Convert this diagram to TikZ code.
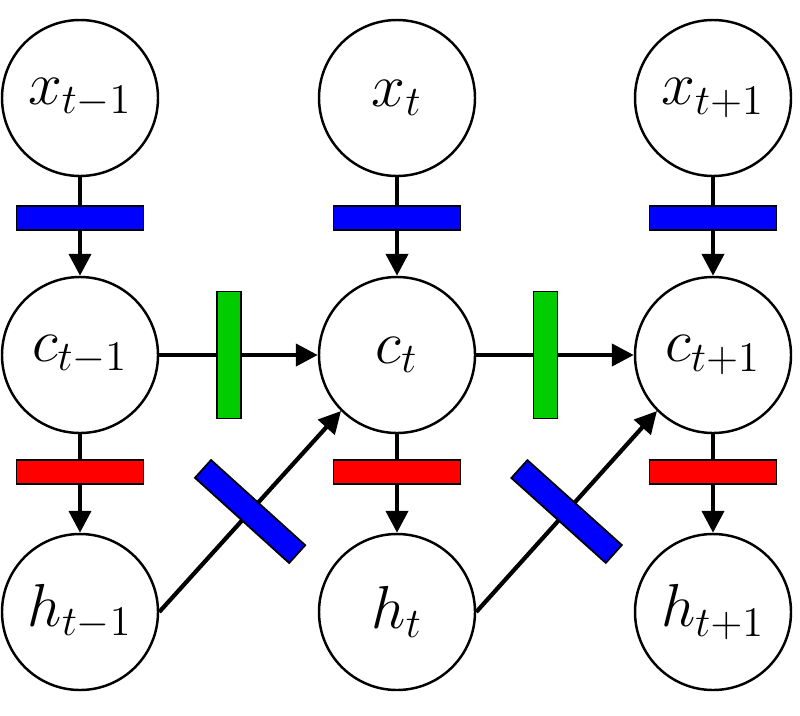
\documentclass[tikz,border=0pt]{standalone}
\usetikzlibrary{arrows.meta}

\begin{document}
\begin{tikzpicture}[
    unit/.style={circle, draw=black, line width=0.7pt, fill=white,
        minimum size=1.56cm, inner sep=0pt, font=\fontsize{18}{20}\selectfont},
    gate/.style={rectangle, draw=black, line width=0.5pt,
        minimum width=1.27cm, minimum height=0.24cm, inner sep=0pt},
    vgate/.style={gate, minimum width=0.24cm, minimum height=1.27cm},
    arrow/.style={line width=1.2pt, -{Triangle[length=2.2mm, width=2.2mm]}}
]
    \useasboundingbox (0,0) rectangle (8,7.15);
    \node[unit] (x1) at (0.80,6.17) {$x_{t-1}$};
    \node[unit] (x2) at (3.97,6.17) {$x_t$};
    \node[unit] (x3) at (7.13,6.17) {$x_{t+1}$};
    \node[unit] (c1) at (0.80,3.60) {$c_{t-1}$};
    \node[unit] (c2) at (3.97,3.60) {$c_t$};
    \node[unit] (c3) at (7.13,3.60) {$c_{t+1}$};
    \node[unit] (h1) at (0.80,1.03) {$h_{t-1}$};
    \node[unit] (h2) at (3.97,1.03) {$h_t$};
    \node[unit] (h3) at (7.13,1.03) {$h_{t+1}$};
    % input gates
    \draw[arrow] (x1) -- node[gate, fill=blue, pos=0.41] (gx1) {} (c1);
    \draw[arrow] (x2) -- node[gate, fill=blue, pos=0.41] (gx2) {} (c2);
    \draw[arrow] (x3) -- node[gate, fill=blue, pos=0.41] (gx3) {} (c3);
    % output gates
    \draw[arrow] (c1) -- node[gate, fill=red, pos=0.38] (gh1) {} (h1);
    \draw[arrow] (c2) -- node[gate, fill=red, pos=0.38] (gh2) {} (h2);
    \draw[arrow] (c3) -- node[gate, fill=red, pos=0.38] (gh3) {} (h3);
    % forget gates
    \draw[arrow] (c1.east) -- node[vgate, fill=green!80!black, pos=0.44] (gc1) {} (c2.west);
    \draw[arrow] (c2.east) -- node[vgate, fill=green!80!black, pos=0.44] (gc2) {} (c3.west);
    % recurrent gates
    \draw[arrow] (h1.east) -- node[vgate, fill=blue, sloped] (gr1) {} (c2.south west);
    \draw[arrow] (h2.east) -- node[vgate, fill=blue, sloped] (gr2) {} (c3.south west);
\end{tikzpicture}
\end{document}
